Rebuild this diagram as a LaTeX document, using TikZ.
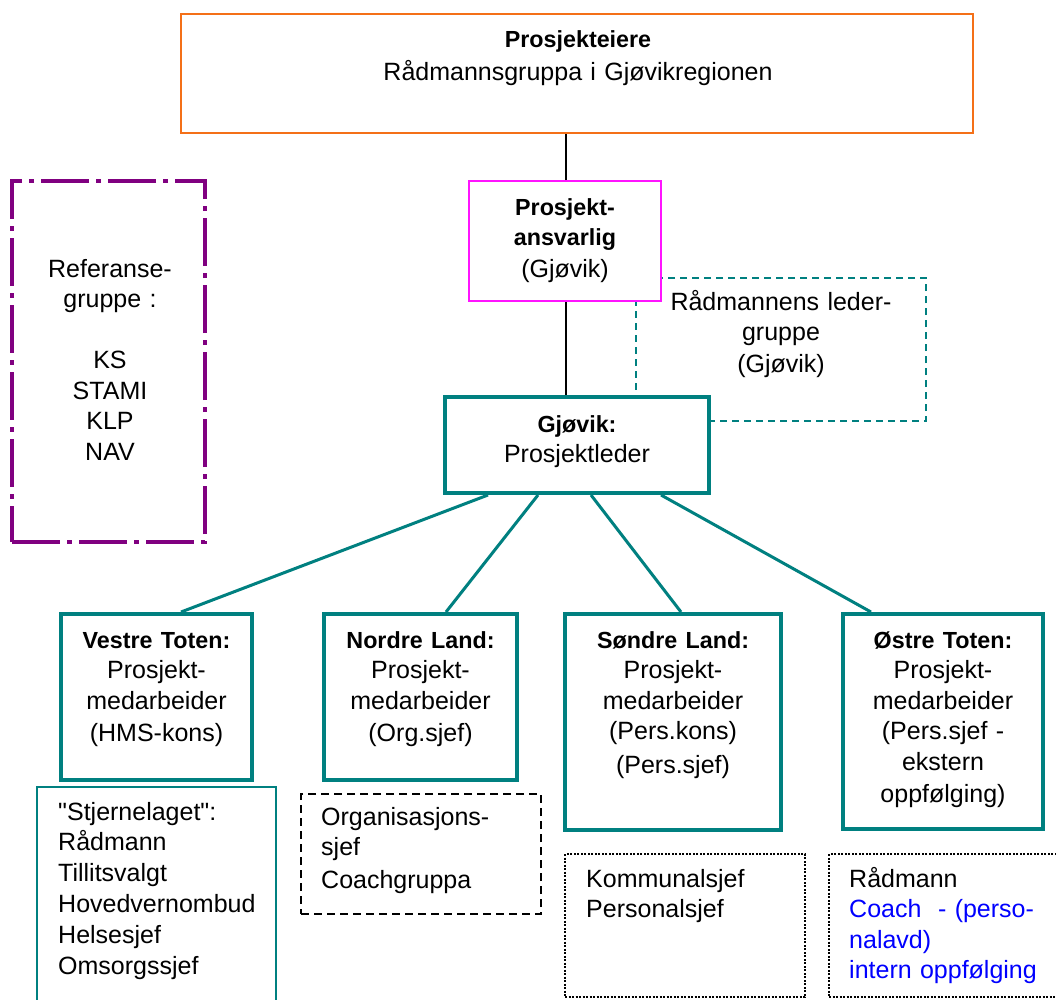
\documentclass[tikz,border=0pt]{standalone}
\usepackage{fontspec}
\setmainfont{Liberation Sans}[Ligatures=TeXOff]
\usetikzlibrary{calc}
\definecolor{tealc}{RGB}{0,128,128}
\definecolor{orng}{RGB}{244,112,24}
\definecolor{magc}{RGB}{255,20,255}
\definecolor{purp}{RGB}{128,0,128}
\definecolor{blu}{RGB}{0,0,255}
\newcommand{\bt}[1]{{\fontsize{23.3}{30.5}\selectfont\bfseries #1}}
\tikzset{
  box/.style={rectangle, inner sep=0pt, fill=white},
  tealbox/.style={box, draw=tealc, line width=4pt},
  txt/.style={inner sep=0pt, anchor=base, text width=400pt, align=center,
    font=\fontsize{25}{30.5}\selectfont},
  ltxt/.style={inner sep=0pt, anchor=base west, text width=300pt, align=left,
    font=\fontsize{25}{30.5}\selectfont},
  conn/.style={draw=tealc, line width=3pt},
  vline/.style={draw=black, line width=1.5pt},
}
\begin{document}
\begin{tikzpicture}[x=1pt,y=-1pt]
\useasboundingbox (0,0) rectangle (1056,999);
\clip (0,0) rectangle (1056,999);
\fill[white] (0,0) rectangle (1056,999);

% dashed background box (behind others)
\node[rectangle, inner sep=0pt, draw=tealc, line width=1.6pt, dash pattern=on 7pt off 5pt,
  minimum width=290pt, minimum height=143pt] (rl) at (781,349.5) {};

% boxes
\node[box, draw=orng, line width=2pt, minimum width=792pt, minimum height=119pt] (top) at (577,73.5) {};
\node[box, draw=magc, line width=2pt, minimum width=192pt, minimum height=120pt] (pa) at (565,241) {};
\node[tealbox, minimum width=264pt, minimum height=96pt] (gj) at (577,445) {};

\draw[vline] (pa.north -| 566,0) -- (top.south -| 566,0);
\draw[vline] (pa.south -| 566,0) -- (gj.north -| 566,0);

\node[rectangle, inner sep=0pt, draw=purp, line width=4pt,
  dash pattern=on 48pt off 7pt on 5pt off 7pt,
  minimum width=193pt, minimum height=361pt] (ref) at (108.5,361.5) {};

\node[tealbox, minimum width=191pt, minimum height=166pt] (vt) at (156.5,697) {};
\node[tealbox, minimum width=193pt, minimum height=166pt] (nl) at (420.5,697) {};
\node[tealbox, minimum width=216pt, minimum height=216pt] (sl) at (673,722) {};
\node[tealbox, minimum width=200pt, minimum height=215pt] (ot) at (943,721.5) {};

\draw[conn] ([xshift=45pt]gj.south west) -- ([xshift=122pt]vt.north west);
\draw[conn] ([xshift=95pt]gj.south west) -- ([xshift=124pt]nl.north west);
\draw[conn] ([xshift=148pt]gj.south west) -- ([xshift=118pt]sl.north west);
\draw[conn] ([xshift=218pt]gj.south west) -- ([xshift=30pt]ot.north west);

% lower group boxes
\node[box, draw=tealc, line width=2pt, minimum width=239pt, minimum height=230pt] (st) at (156.5,902) {};
\node[box, draw=black, line width=2.2pt, dash pattern=on 8pt off 5pt, minimum width=240pt, minimum height=120pt] (org) at (421,854) {};
\node[box, draw=black, line width=1.3pt, dash pattern=on 2pt off 1.5pt, minimum width=240pt, minimum height=143pt] (ko) at (685,925.5) {};
\node[box, draw=black, line width=1.3pt, dash pattern=on 2pt off 1.5pt, minimum width=240pt, minimum height=143pt] (ra) at (949,925.5) {};

% texts
\node[txt] (ttop) at (578,47) {\bt{Prosjekteiere}\\[2.5pt]Rådmannsgruppa i Gjøvikregionen};
\node[txt] (tpa) at (565,215) {\bt{Prosjekt-}\\\bt{ansvarlig}\\[1.5pt](Gjøvik)};
\node[txt] (trl) at (781,310) {Rådmannens leder-\\gruppe\\[1.5pt](Gjøvik)};
\node[txt] (tgj) at (577,432) {\bt{Gjøvik:}\\Prosjektleder};
\node[txt] (tref) at (110,277) {Referanse-\\gruppe :\\[30.5pt]KS\\STAMI\\KLP\\NAV};
\node[txt] (tvt) at (156.5,648) {\bt{Vestre Toten:}\\Prosjekt-\\medarbeider\\[1.5pt](HMS-kons)};
\node[txt] (tnl) at (420.5,648) {\bt{Nordre Land:}\\Prosjekt-\\medarbeider\\[1.5pt](Org.sjef)};
\node[txt] (tsl) at (673,648) {\bt{Søndre Land:}\\Prosjekt-\\medarbeider\\(Pers.kons)\\[3.5pt](Pers.sjef)};
\node[txt] (tot) at (943,648) {\bt{Østre Toten:}\\Prosjekt-\\medarbeider\\(Pers.sjef -\\ekstern\\[1.5pt]oppfølging)};
\node[ltxt] (tst) at (58,820) {"Stjernelaget":\\Rådmann\\Tillitsvalgt\\[1pt]Hovedvernombud\\Helsesjef\\[1pt]Omsorgssjef};
\node[ltxt] (torg) at (321,825) {Organisasjons-\\sjef\\[2.5pt]Coachgruppa};
\node[ltxt] (tko) at (586,887) {Kommunalsjef\\Personalsjef};
\node[ltxt] (tra) at (849,887) {Rådmann\\\textcolor{blu}{Coach\ \ - (perso-}\\\textcolor{blu}{nalavd)}\\\textcolor{blu}{intern oppfølging}};
\end{tikzpicture}
\end{document}
